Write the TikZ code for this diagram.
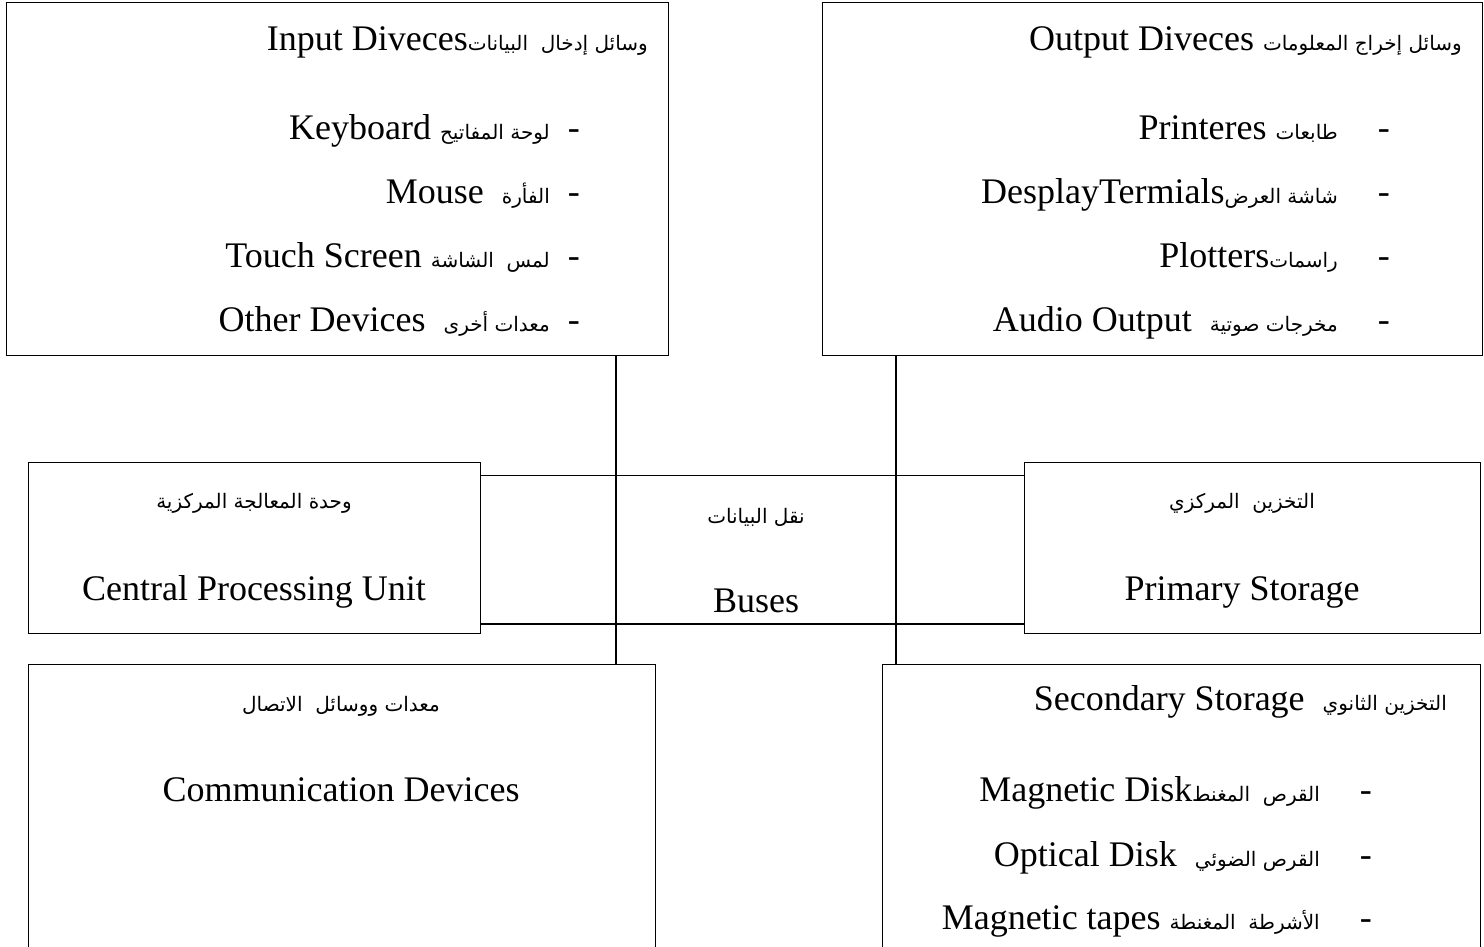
\documentclass[tikz,border=0pt]{standalone}
\usepackage{fontspec}
\setmainfont{Liberation Serif}
\newfontfamily\arabicfont[Script=Arabic]{DejaVu Sans}
\TeXXeTstate=1
\newcommand{\artext}[1]{{\arabicfont\fontsize{20}{23}\selectfont\beginR #1\endR}}
\begin{document}
\begin{tikzpicture}[x=1pt,y=-1pt,
  box/.style={draw=black,line width=1.3pt,rectangle,inner sep=0pt,anchor=north west},
  txt/.style={inner sep=0pt,font=\fontsize{36}{40}\selectfont},
  bus/.style={draw=black,line width=1.3pt}]
\useasboundingbox (0,0) rectangle (1484,946);
\clip (0,0) rectangle (1484,946);
% boxes
\node[box,minimum width=662pt,minimum height=353pt] (input) at (6,2) {};
\node[box,minimum width=660pt,minimum height=353pt] (output) at (822,2) {};
\node[box,minimum width=452pt,minimum height=171pt] (cpu) at (28,462) {};
\node[box,minimum width=456pt,minimum height=171pt] (primary) at (1024,462) {};
\node[box,minimum width=627pt,minimum height=300pt] (comm) at (28,664) {};
\node[box,minimum width=598pt,minimum height=300pt] (secondary) at (882,664) {};
% bus coordinates
\coordinate (v1) at (616,0);
\coordinate (v2) at (896,0);
\coordinate (h1) at (0,475.5);
\coordinate (h2) at (0,624);
\draw[bus] (input.south -| v1) -- (comm.north -| v1);
\draw[bus] (output.south -| v2) -- (secondary.north -| v2);
\draw[bus] (cpu.east |- h1) -- (primary.west |- h1);
\draw[bus] (cpu.east |- h2) -- (primary.west |- h2);
% input texts
\node[txt,anchor=base east] (ititle) at (648,50) {Input Diveces\artext{وسائل إدخال\ \ البيانات}};
\node[txt,anchor=base east] (i1) at (580,139) {Keyboard \artext{لوحة المفاتيح}\hspace{18pt}-};
\node[txt,anchor=base east] (i2) at (580,203) {Mouse\ \ \artext{الفأرة}\hspace{18pt}-};
\node[txt,anchor=base east] (i3) at (580,267) {Touch Screen \artext{لمس\ \ الشاشة}\hspace{18pt}-};
\node[txt,anchor=base east] (i4) at (580,331) {Other Devices\ \ \artext{معدات أخرى}\hspace{18pt}-};
% output texts
\node[txt,anchor=base east] (otitle) at (1462,50) {Output Diveces \artext{وسائل إخراج المعلومات}};
\node[txt,anchor=base east] (o1) at (1390,139) {Printeres \artext{طابعات}\hspace{40pt}-};
\node[txt,anchor=base east] (o2) at (1390,203) {DesplayTermials\artext{شاشة العرض}\hspace{40pt}-};
\node[txt,anchor=base east] (o3) at (1390,267) {Plotters\artext{راسمات}\hspace{40pt}-};
\node[txt,anchor=base east] (o4) at (1390,331) {Audio Output\ \ \artext{مخرجات صوتية}\hspace{40pt}-};
% cpu
\node[txt,anchor=base] (cpuar) at (254,508) {\artext{وحدة المعالجة المركزية}};
\node[txt,anchor=base] (cpuen) at (254,600) {Central Processing Unit};
% buses
\node[txt,anchor=base] (busar) at (756,523) {\artext{نقل البيانات}};
\node[txt,anchor=base] (busen) at (756,612) {Buses};
% primary
\node[txt,anchor=base] (primar) at (1242,508) {\artext{التخزين\ \ المركزي}};
\node[txt,anchor=base] (primen) at (1242,600) {Primary Storage};
% comm
\node[txt,anchor=base] (commar) at (341,711) {\artext{معدات ووسائل\ \ الاتصال}};
\node[txt,anchor=base] (commen) at (341,801) {Communication Devices};
% secondary
\node[txt,anchor=base east] (stitle) at (1447,710) {Secondary Storage\ \ \artext{التخزين الثانوي}};
\node[txt,anchor=base east] (s1) at (1372,801) {Magnetic Disk\artext{القرص\ \ المغنط}\hspace{40pt}-};
\node[txt,anchor=base east] (s2) at (1372,866) {Optical Disk\ \ \artext{القرص الضوئي}\hspace{40pt}-};
\node[txt,anchor=base east] (s3) at (1372,929) {Magnetic tapes \artext{الأشرطة\ \ المغنطة}\hspace{40pt}-};
\end{tikzpicture}
\end{document}
